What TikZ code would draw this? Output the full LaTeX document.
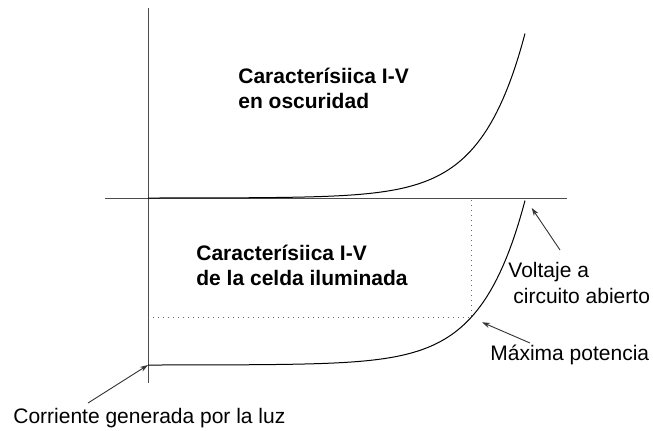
\documentclass[tikz,border=0pt]{standalone}
\usepackage{fontspec}
\setmainfont{Liberation Sans}
\usetikzlibrary{arrows.meta}

\begin{document}
\begin{tikzpicture}[x=0.5pt,y=-0.5pt,>={Stealth[length=4pt,width=2.6pt]},
  declare function={iv(\x)=0.02826*(exp(0.023*(\x-148))-1);},
  axis/.style={draw=black!70,line width=0.5pt},
  curve/.style={draw=black,line width=0.5pt},
  guide/.style={draw=black!60,dotted,line width=0.5pt},
  pointer/.style={->,draw=black!80,line width=0.45pt},
  title/.style={font=\fontsize{10.5}{12.5}\selectfont\bfseries,align=left,anchor=base west,inner sep=0pt},
  note/.style={font=\fontsize{10.5}{13}\selectfont,align=left,anchor=base west,inner sep=0pt}]
  \useasboundingbox (0,0) rectangle (653,430);

  % ejes
  \coordinate (O)  at (148,198);
  \coordinate (yt) at (148,8);
  \coordinate (yb) at (148,383);
  \coordinate (xl) at (105,198);
  \coordinate (xr) at (567,198);
  \draw[axis] (yt) -- (yb);
  \draw[axis] (xl) -- (xr);

  % curvas I-V
  \draw[curve] plot[domain=148:525,samples=120] (\x,{198-iv(\x)});
  \draw[curve] plot[domain=148:525,samples=120] (\x,{365-iv(\x)});

  \coordinate (isc)  at (148,365);
  \coordinate (voc)  at (525,198);
  \coordinate (mpp)  at (471,{365-iv(471)});
  \coordinate (mppx) at (mpp |- O);
  \coordinate (mppy) at (mpp -| O);
  \draw[guide] (mppy) -- (mpp) -- (mppx);

  % textos (base = ultima linea)
  \node[title] (dark)  at (238,108) {Caracterísiica I-V\\en oscuridad};
  \node[title] (light) at (196,285) {Caracterísiica I-V\\de la celda iluminada};
  \node[note]  (vlbl)  at (508,303) {Voltaje a\\\hspace*{2.5pt}circuito abierto};
  \node[note]  (plbl)  at (490,360) {Máxima potencia};
  \node[note]  (ilbl)  at (13,423)  {Corriente generada por la luz};

  % flechas
  \coordinate (vtail) at (560,250);
  \coordinate (ptail) at (530,343);
  \coordinate (itail) at (88,403);
  \draw[pointer,shorten >=6pt] (vtail) -- (voc);
  \draw[pointer,shorten >=6pt] (ptail) -- (mpp);
  \draw[pointer] (itail) -- (isc);
\end{tikzpicture}
\end{document}
